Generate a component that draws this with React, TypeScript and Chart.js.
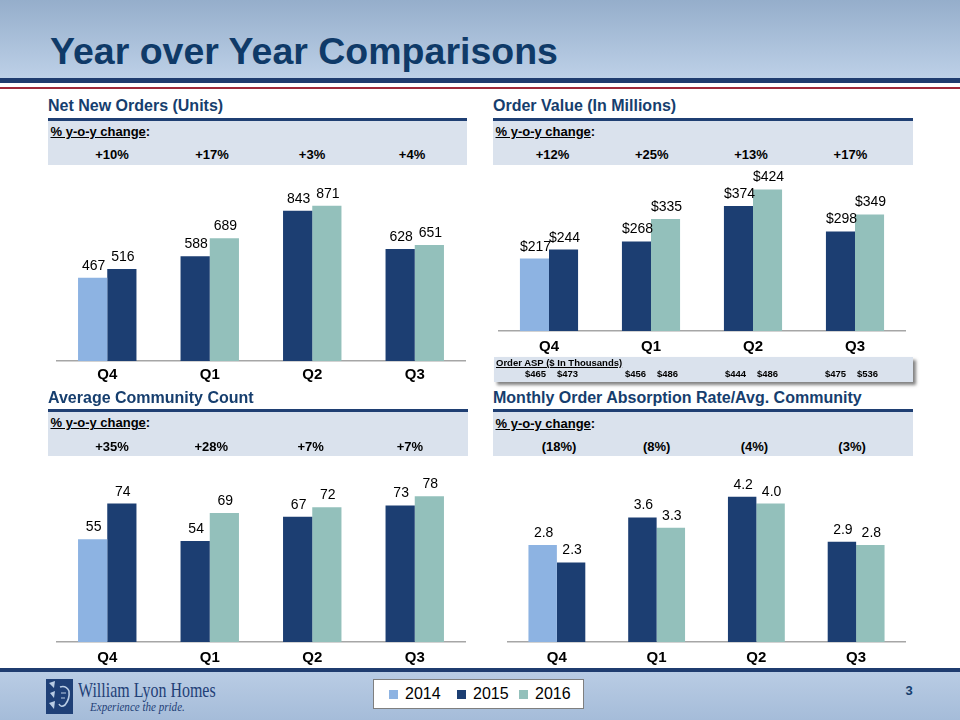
import React, { useEffect, useRef } from "react";
import { Chart, registerables } from "chart.js";

Chart.register(...registerables);

// ---------- data ----------
const quarters = ["Q4", "Q1", "Q2", "Q3"];
const priorYears = ["2014", "2015", "2015", "2015"];
const currentYears = ["2015", "2016", "2016", "2016"];
const legendYears = ["2014", "2015", "2016"];

const ordersPrior = [467, 588, 843, 628];
const ordersCurrent = [516, 689, 871, 651];
const ordersYoy = ["+10%", "+17%", "+3%", "+4%"];

const valuePrior = [217, 268, 374, 298];
const valueCurrent = [244, 335, 424, 349];
const valueYoy = ["+12%", "+25%", "+13%", "+17%"];

const aspPrior = [465, 456, 444, 475];
const aspCurrent = [473, 486, 486, 536];

const communityPrior = [55, 54, 67, 73];
const communityCurrent = [74, 69, 72, 78];
const communityYoy = ["+35%", "+28%", "+7%", "+7%"];

const absorptionPrior = [2.8, 3.6, 4.2, 2.9];
const absorptionCurrent = [2.3, 3.3, 4.0, 2.8];
const absorptionYoy = ["(18%)", "(8%)", "(4%)", "(3%)"];

// ---------- styles ----------
const FONT = "'Liberation Sans', Arial, Helvetica, sans-serif";
const yearColors: Record<string, string> = {
  "2014": "#8db3e2",
  "2015": "#1c3e72",
  "2016": "#93c0bb",
};
const NAVY_TEXT = "#163e6e";
const NAVY_RULE = "#1f3f73";
const BAND = "#dae2ed";

Chart.defaults.font.family = FONT;

type PanelCfg = {
  title: string;
  left: number;
  right: number;
  headBase: number;
  ruleTop: number;
  bandBottom: number;
  yoy: string[];
  yoyStart: number;
  yoyStep: number;
  axisLeft: number;
  axisRight: number;
  axisY: number;
  areaTop: number;
  max: number;
  prior: number[];
  current: number[];
  fmt: (v: number) => string;
  tickPad: number;
};

const panels: PanelCfg[] = [
  {
    title: "Net New Orders (Units)",
    left: 48, right: 467, headBase: 111.7, ruleTop: 117.5, bandBottom: 165,
    yoy: ordersYoy, yoyStart: 112, yoyStep: 100,
    axisLeft: 56, axisRight: 466, axisY: 361, areaTop: 165, max: 1100,
    prior: ordersPrior, current: ordersCurrent, fmt: (v) => String(v), tickPad: 5,
  },
  {
    title: "Order Value (In Millions)",
    left: 493, right: 913, headBase: 111.7, ruleTop: 117.5, bandBottom: 165,
    yoy: valueYoy, yoyStart: 552.5, yoyStep: 99.3,
    axisLeft: 498, axisRight: 906, axisY: 331, areaTop: 164, max: 500,
    prior: valuePrior, current: valueCurrent, fmt: (v) => "$" + v, tickPad: 7,
  },
  {
    title: "Average Community Count",
    left: 48, right: 468, headBase: 403.3, ruleTop: 408.5, bandBottom: 456,
    yoy: communityYoy, yoyStart: 112, yoyStep: 99.3,
    axisLeft: 56, axisRight: 466, axisY: 642, areaTop: 455, max: 100,
    prior: communityPrior, current: communityCurrent, fmt: (v) => String(v), tickPad: 7,
  },
  {
    title: "Monthly Order Absorption Rate/Avg. Community",
    left: 493, right: 913, headBase: 404, ruleTop: 409, bandBottom: 456,
    yoy: absorptionYoy, yoyStart: 559, yoyStep: 97.7,
    axisLeft: 507, axisRight: 906, axisY: 642, areaTop: 469, max: 5,
    prior: absorptionPrior, current: absorptionCurrent, fmt: (v) => v.toFixed(1), tickPad: 7,
  },
];

const X_AXIS_H = 30;

// ---------- helpers ----------
function Txt(props: {
  x: number; base: number; size: number; bold?: boolean; align?: "left" | "center";
  color?: string; italic?: boolean; family?: string; underline?: boolean; children: React.ReactNode;
}) {
  const { x, base, size, bold, align = "left", color = "#000", italic, family = FONT, children } = props;
  return (
    <div
      style={{
        position: "absolute",
        left: x,
        top: base - 0.8465 * size,
        fontSize: size,
        lineHeight: `${size}px`,
        fontWeight: bold ? 700 : 400,
        fontStyle: italic ? "italic" : "normal",
        fontFamily: family,
        color,
        whiteSpace: "nowrap",
        transform: align === "center" ? "translateX(-50%)" : undefined,
        textDecoration: props.underline ? "underline" : undefined,
      }}
    >
      {children}
    </div>
  );
}

function Box(props: { x: number; y: number; w: number; h: number; bg: string; extra?: React.CSSProperties }) {
  return (
    <div
      style={{
        position: "absolute",
        left: props.x,
        top: props.y,
        width: props.w,
        height: props.h,
        background: props.bg,
        ...props.extra,
      }}
    />
  );
}

function BarChart({ cfg }: { cfg: PanelCfg }) {
  const ref = useRef<HTMLCanvasElement>(null);
  const width = cfg.axisRight - cfg.axisLeft;
  const height = cfg.axisY - cfg.areaTop + X_AXIS_H;
  useEffect(() => {
    const labelPlugin = {
      id: "valueLabels",
      afterDatasetsDraw(chart: any) {
        const ctx = chart.ctx;
        ctx.save();
        ctx.font = `14px ${FONT}`;
        ctx.fillStyle = "#000";
        ctx.textAlign = "center";
        ctx.textBaseline = "alphabetic";
        chart.data.datasets.forEach((ds: any, di: number) => {
          const meta = chart.getDatasetMeta(di);
          meta.data.forEach((bar: any, i: number) => {
            ctx.fillText(cfg.fmt(ds.data[i]), bar.x + 1, bar.y - 8);
          });
        });
        ctx.restore();
      },
    };
    const chart = new Chart(ref.current!, {
      type: "bar",
      data: {
        labels: quarters,
        datasets: [
          {
            data: cfg.prior,
            backgroundColor: priorYears.map((y) => yearColors[y]),
            borderWidth: 0,
            categoryPercentage: 0.57,
            barPercentage: 1,
          },
          {
            data: cfg.current,
            backgroundColor: currentYears.map((y) => yearColors[y]),
            borderWidth: 0,
            categoryPercentage: 0.57,
            barPercentage: 1,
          },
        ],
      },
      options: {
        responsive: false,
        maintainAspectRatio: false,
        animation: false,
        layout: { padding: 0 },
        plugins: { legend: { display: false }, tooltip: { enabled: false } },
        scales: {
          x: {
            grid: { display: false, drawTicks: false },
            border: { display: true, color: "#a6a6a6", width: 1.5 },
            ticks: {
              font: { size: 15, weight: "bold", family: FONT },
              color: "#000",
              padding: cfg.tickPad,
              maxRotation: 0,
            },
            afterFit: (s: any) => {
              s.height = X_AXIS_H;
            },
          },
          y: { display: false, min: 0, max: cfg.max },
        },
      } as any,
      plugins: [labelPlugin],
    });
    return () => chart.destroy();
  }, []);
  return (
    <canvas
      ref={ref}
      width={width}
      height={height}
      style={{ position: "absolute", left: cfg.axisLeft, top: cfg.areaTop, width, height }}
    />
  );
}

function Panel({ cfg }: { cfg: PanelCfg }) {
  const w = cfg.right - cfg.left;
  const bandTop = cfg.ruleTop + 3;
  return (
    <>
      <Txt x={cfg.left} base={cfg.headBase} size={16} bold color={NAVY_TEXT}>
        {cfg.title}
      </Txt>
      <Box x={cfg.left} y={cfg.ruleTop} w={w} h={3} bg={NAVY_RULE} />
      <Box x={cfg.left} y={bandTop} w={w} h={cfg.bandBottom - bandTop} bg={BAND} />
      <Txt x={cfg.left + 2.5} base={cfg.headBase + 24} size={13} bold>
        <span style={{ textDecoration: "underline" }}>% y-o-y change</span>:
      </Txt>
      {cfg.yoy.map((t, i) => (
        <Txt key={i} x={cfg.yoyStart + i * cfg.yoyStep} base={cfg.headBase + 47.3} size={13} bold align="center">
          {t}
        </Txt>
      ))}
      <BarChart cfg={cfg} />
    </>
  );
}

export default function App() {
  useEffect(() => {
    document.body.style.margin = "0";
  }, []);
  return (
    <div
      style={{
        position: "absolute",
        left: 0,
        top: 0,
        width: 960,
        height: 720,
        overflow: "hidden",
        background: "#fff",
        fontFamily: FONT,
      }}
    >
      {/* header */}
      <Box x={0} y={0} w={960} h={78} bg="linear-gradient(#95aecb, #bdd0e7)" />
      <Box x={0} y={78} w={960} h={5} bg="#1f3c6f" />
      <Box x={0} y={87} w={960} h={2} bg="#9e2a3a" />
      <Txt x={50} base={65} size={37.5} bold color="#0f3a68">
        Year over Year Comparisons
      </Txt>

      {panels.map((p, i) => (
        <Panel key={i} cfg={p} />
      ))}

      {/* Order ASP box */}
      <Box
        x={494}
        y={357}
        w={419}
        h={25}
        bg={BAND}
        extra={{ boxShadow: "3px 3px 3px rgba(90,90,90,0.75)" }}
      />
      <Txt x={496} base={366} size={9.5} bold underline>
        Order ASP ($ In Thousands)
      </Txt>
      {quarters.map((q, i) => (
        <React.Fragment key={q}>
          <Txt x={535.5 + i * 100} base={377} size={9.5} bold align="center">
            {"$" + aspPrior[i]}
          </Txt>
          <Txt x={567.5 + i * 100} base={377} size={9.5} bold align="center">
            {"$" + aspCurrent[i]}
          </Txt>
        </React.Fragment>
      ))}

      {/* footer */}
      <Box x={0} y={668} w={960} h={4} bg="#1f3c6f" />
      <Box x={0} y={672} w={960} h={48} bg="linear-gradient(#b9cce4, #a5bcd9)" />

      {/* logo */}
      <svg style={{ position: "absolute", left: 46, top: 679 }} width={27} height={35} viewBox="0 0 27 35">
        <rect x={0} y={0} width={27} height={35} fill="#1f4077" />
        <path d="M3 4 L9 2 L8 9 Z M4 14 L9 12 L8 19 Z M3 24 L9 22 L8 30 Z" fill="#b9cce4" />
        <path d="M14 8 Q20 6 23 12 Q24 20 19 26 Q15 29 13 25" stroke="#b9cce4" strokeWidth={1.6} fill="none" />
        <path d="M15 14 L20 14 M15 19 L19 19" stroke="#b9cce4" strokeWidth={1.2} />
      </svg>
      <div
        style={{
          position: "absolute",
          left: 78,
          top: 680,
          fontFamily: "'Liberation Serif', 'Times New Roman', serif",
          fontSize: 21,
          lineHeight: "21px",
          color: "#1f4077",
          whiteSpace: "nowrap",
          transform: "scaleX(0.76)",
          transformOrigin: "left top",
        }}
      >
        William Lyon Homes
      </div>
      <div
        style={{
          position: "absolute",
          left: 90,
          top: 700,
          fontFamily: "'Liberation Serif', 'Times New Roman', serif",
          fontStyle: "italic",
          fontSize: 13,
          lineHeight: "13px",
          color: "#1f4077",
          whiteSpace: "nowrap",
          transform: "scaleX(0.85)",
          transformOrigin: "left top",
        }}
      >
        Experience the pride.
      </div>

      {/* legend */}
      <div
        style={{
          position: "absolute",
          left: 373,
          top: 679,
          width: 209,
          height: 28,
          background: "#fff",
          border: "1px solid #7f7f7f",
        }}
      />
      {legendYears.map((y, i) => {
        const sx = [389, 457, 519][i];
        return (
          <React.Fragment key={y}>
            <Box x={sx} y={689.5} w={9} h={9} bg={yearColors[y]} />
            <Txt x={sx + 16} base={699.5} size={16}>
              {y}
            </Txt>
          </React.Fragment>
        );
      })}

      {/* page number */}
      <Txt x={909} base={695} size={13} bold align="center" color={NAVY_TEXT}>
        3
      </Txt>
    </div>
  );
}
